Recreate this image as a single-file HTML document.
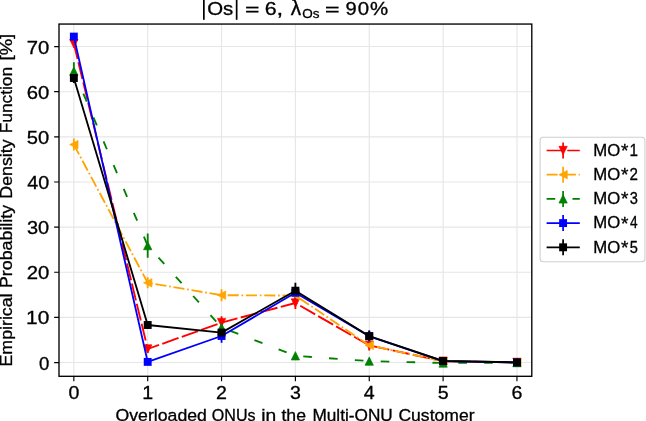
<!DOCTYPE html>
<html><head><meta charset="utf-8"><title>chart</title>
<style>html,body{margin:0;padding:0;background:#fff;overflow:hidden}body{width:646px;height:421px;position:relative;font-family:"Liberation Sans",sans-serif}text{fill:#000;stroke:#000;stroke-width:0.3px}</style></head>
<body>
<svg width="646" height="421" viewBox="0 0 646 421" style="display:block;position:absolute;left:0;top:0;will-change:transform" font-family="Liberation Sans, sans-serif">
<rect x="0" y="0" width="646" height="421" fill="#fff"/>
<path d="M73.85 24.05V376.3M147.70 24.05V376.3M221.55 24.05V376.3M295.40 24.05V376.3M369.25 24.05V376.3M443.10 24.05V376.3M516.95 24.05V376.3M59.0 362.55H531.8M59.0 317.41H531.8M59.0 272.26H531.8M59.0 227.12H531.8M59.0 181.98H531.8M59.0 136.83H531.8M59.0 91.69H531.8M59.0 46.55H531.8" stroke="#e6e6e6" stroke-width="1.11" fill="none"/>
<clipPath id="c"><rect x="59.0" y="24.05" width="472.79999999999995" height="352.25"/></clipPath>
<g clip-path="url(#c)">
<path d="M73.85 39.60V47.60M147.70 345.00V353.00M221.55 316.30V328.90M295.40 297.00V309.00M369.25 340.40V350.40M443.10 359.20V363.20M516.95 361.40V363.40" fill="none" stroke="#ff0000" stroke-width="1.85"/>
<path d="M73.85 138.60V150.60M147.70 277.30V288.30M221.55 289.20V301.20M295.40 290.60V300.60M369.25 341.30V349.30M443.10 359.20V363.20M516.95 361.40V363.40" fill="none" stroke="#ffa500" stroke-width="1.85"/>
<path d="M73.85 62.30V80.10M147.70 233.40V257.80M221.55 322.50V332.50M295.40 353.80V357.80M369.25 360.10V362.10M443.10 362.50V363.50M516.95 362.10V363.10" fill="none" stroke="#008000" stroke-width="1.85"/>
<path d="M73.85 33.60V39.60M147.70 359.90V363.90M221.55 329.30V342.70M295.40 286.80V298.80M369.25 330.30V342.30M443.10 359.10V363.10M516.95 361.40V363.40" fill="none" stroke="#0000ff" stroke-width="1.85"/>
<path d="M73.85 73.00V83.00M147.70 321.00V329.00M221.55 327.60V337.60M295.40 282.80V298.60M369.25 331.10V341.10M443.10 359.00V363.00M516.95 361.40V363.40" fill="none" stroke="#000000" stroke-width="1.85"/>
<path d="M73.85 43.60 L147.70 349.00 L221.55 322.60 L295.40 303.00 L369.25 345.40 L443.10 361.20 L516.95 362.40" fill="none" stroke="#ff0000" stroke-width="1.85" stroke-linejoin="round" stroke-dasharray="17.250 3.450" stroke-dashoffset="1.5"/>
<polygon points="73.85,47.77 69.68,39.44 78.02,39.44" fill="#ff0000" stroke="#ff0000" stroke-width="0.7" stroke-linejoin="miter"/>
<polygon points="147.70,353.17 143.53,344.83 151.86,344.83" fill="#ff0000" stroke="#ff0000" stroke-width="0.7" stroke-linejoin="miter"/>
<polygon points="221.55,326.77 217.38,318.44 225.71,318.44" fill="#ff0000" stroke="#ff0000" stroke-width="0.7" stroke-linejoin="miter"/>
<polygon points="295.40,307.17 291.23,298.83 299.56,298.83" fill="#ff0000" stroke="#ff0000" stroke-width="0.7" stroke-linejoin="miter"/>
<polygon points="369.25,349.56 365.08,341.23 373.42,341.23" fill="#ff0000" stroke="#ff0000" stroke-width="0.7" stroke-linejoin="miter"/>
<polygon points="443.10,365.37 438.94,357.03 447.27,357.03" fill="#ff0000" stroke="#ff0000" stroke-width="0.7" stroke-linejoin="miter"/>
<polygon points="516.95,366.56 512.78,358.23 521.11,358.23" fill="#ff0000" stroke="#ff0000" stroke-width="0.7" stroke-linejoin="miter"/>
<path d="M73.85 144.60 L147.70 282.80 L221.55 295.20 L295.40 295.60 L369.25 345.30 L443.10 361.20 L516.95 362.40" fill="none" stroke="#ffa500" stroke-width="1.85" stroke-linejoin="round" stroke-dasharray="11.040 2.760 1.725 2.760" stroke-dashoffset="0"/>
<polygon points="69.68,144.60 78.02,148.76 78.02,140.44" fill="#ffa500" stroke="#ffa500" stroke-width="0.7" stroke-linejoin="miter"/>
<polygon points="143.53,282.80 151.86,286.97 151.86,278.63" fill="#ffa500" stroke="#ffa500" stroke-width="0.7" stroke-linejoin="miter"/>
<polygon points="217.38,295.20 225.71,299.37 225.71,291.03" fill="#ffa500" stroke="#ffa500" stroke-width="0.7" stroke-linejoin="miter"/>
<polygon points="291.23,295.60 299.56,299.77 299.56,291.44" fill="#ffa500" stroke="#ffa500" stroke-width="0.7" stroke-linejoin="miter"/>
<polygon points="365.08,345.30 373.42,349.47 373.42,341.13" fill="#ffa500" stroke="#ffa500" stroke-width="0.7" stroke-linejoin="miter"/>
<polygon points="438.94,361.20 447.27,365.37 447.27,357.03" fill="#ffa500" stroke="#ffa500" stroke-width="0.7" stroke-linejoin="miter"/>
<polygon points="512.78,362.40 521.11,366.56 521.11,358.23" fill="#ffa500" stroke="#ffa500" stroke-width="0.7" stroke-linejoin="miter"/>
<path d="M73.85 71.20 L147.70 245.60 L221.55 327.50 L295.40 355.80 L369.25 361.10 L443.10 363.00 L516.95 362.60" fill="none" stroke="#008000" stroke-width="1.85" stroke-linejoin="round" stroke-dasharray="8.625 17.250" stroke-dashoffset="1.5"/>
<polygon points="73.85,67.03 69.68,75.37 78.02,75.37" fill="#008000" stroke="#008000" stroke-width="0.7" stroke-linejoin="miter"/>
<polygon points="147.70,241.44 143.53,249.76 151.86,249.76" fill="#008000" stroke="#008000" stroke-width="0.7" stroke-linejoin="miter"/>
<polygon points="221.55,323.33 217.38,331.67 225.71,331.67" fill="#008000" stroke="#008000" stroke-width="0.7" stroke-linejoin="miter"/>
<polygon points="295.40,351.63 291.23,359.97 299.56,359.97" fill="#008000" stroke="#008000" stroke-width="0.7" stroke-linejoin="miter"/>
<polygon points="369.25,356.94 365.08,365.27 373.42,365.27" fill="#008000" stroke="#008000" stroke-width="0.7" stroke-linejoin="miter"/>
<polygon points="443.10,358.83 438.94,367.17 447.27,367.17" fill="#008000" stroke="#008000" stroke-width="0.7" stroke-linejoin="miter"/>
<polygon points="516.95,358.44 512.78,366.77 521.11,366.77" fill="#008000" stroke="#008000" stroke-width="0.7" stroke-linejoin="miter"/>
<path d="M73.85 36.60 L147.70 361.90 L221.55 336.00 L295.40 292.80 L369.25 336.30 L443.10 361.10 L516.95 362.40" fill="none" stroke="#0000ff" stroke-width="1.85" stroke-linejoin="round"/>
<rect x="69.90" y="32.65" width="7.9" height="7.9" fill="#0000ff"/>
<rect x="143.75" y="357.95" width="7.9" height="7.9" fill="#0000ff"/>
<rect x="217.60" y="332.05" width="7.9" height="7.9" fill="#0000ff"/>
<rect x="291.45" y="288.85" width="7.9" height="7.9" fill="#0000ff"/>
<rect x="365.30" y="332.35" width="7.9" height="7.9" fill="#0000ff"/>
<rect x="439.15" y="357.15" width="7.9" height="7.9" fill="#0000ff"/>
<rect x="513.00" y="358.45" width="7.9" height="7.9" fill="#0000ff"/>
<path d="M73.85 78.00 L147.70 325.00 L221.55 332.60 L295.40 290.70 L369.25 336.10 L443.10 361.00 L516.95 362.40" fill="none" stroke="#000000" stroke-width="1.85" stroke-linejoin="round"/>
<rect x="69.90" y="74.05" width="7.9" height="7.9" fill="#000000"/>
<rect x="143.75" y="321.05" width="7.9" height="7.9" fill="#000000"/>
<rect x="217.60" y="328.65" width="7.9" height="7.9" fill="#000000"/>
<rect x="291.45" y="286.75" width="7.9" height="7.9" fill="#000000"/>
<rect x="365.30" y="332.15" width="7.9" height="7.9" fill="#000000"/>
<rect x="439.15" y="357.05" width="7.9" height="7.9" fill="#000000"/>
<rect x="513.00" y="358.45" width="7.9" height="7.9" fill="#000000"/>
</g>
<rect x="59.0" y="24.05" width="472.79999999999995" height="352.25" fill="none" stroke="#000" stroke-width="1.35"/>
<path d="M73.85 376.3v4.86M147.70 376.3v4.86M221.55 376.3v4.86M295.40 376.3v4.86M369.25 376.3v4.86M443.10 376.3v4.86M516.95 376.3v4.86M59.0 362.55h-4.86M59.0 317.41h-4.86M59.0 272.26h-4.86M59.0 227.12h-4.86M59.0 181.98h-4.86M59.0 136.83h-4.86M59.0 91.69h-4.86M59.0 46.55h-4.86" stroke="#000" stroke-width="1.15" fill="none"/>
<text x="73.85" y="399.45" font-size="17.5" text-anchor="middle" textLength="10.90" lengthAdjust="spacingAndGlyphs">0</text>
<text x="147.70" y="399.45" font-size="17.5" text-anchor="middle" textLength="10.90" lengthAdjust="spacingAndGlyphs">1</text>
<text x="221.55" y="399.45" font-size="17.5" text-anchor="middle" textLength="10.90" lengthAdjust="spacingAndGlyphs">2</text>
<text x="295.40" y="399.45" font-size="17.5" text-anchor="middle" textLength="10.90" lengthAdjust="spacingAndGlyphs">3</text>
<text x="369.25" y="399.45" font-size="17.5" text-anchor="middle" textLength="10.90" lengthAdjust="spacingAndGlyphs">4</text>
<text x="443.10" y="399.45" font-size="17.5" text-anchor="middle" textLength="10.90" lengthAdjust="spacingAndGlyphs">5</text>
<text x="516.95" y="399.45" font-size="17.5" text-anchor="middle" textLength="10.90" lengthAdjust="spacingAndGlyphs">6</text>
<text x="39.04" y="369.50" font-size="17.5" textLength="10.34" lengthAdjust="spacingAndGlyphs">0</text>
<text x="26.06" y="324.36" font-size="17.5" textLength="23.19" lengthAdjust="spacingAndGlyphs">10</text>
<text x="26.69" y="279.21" font-size="17.5" textLength="22.54" lengthAdjust="spacingAndGlyphs">20</text>
<text x="26.99" y="234.07" font-size="17.5" textLength="22.23" lengthAdjust="spacingAndGlyphs">30</text>
<text x="27.28" y="188.93" font-size="17.5" textLength="21.93" lengthAdjust="spacingAndGlyphs">40</text>
<text x="26.84" y="143.78" font-size="17.5" textLength="22.39" lengthAdjust="spacingAndGlyphs">50</text>
<text x="26.69" y="98.64" font-size="17.5" textLength="22.54" lengthAdjust="spacingAndGlyphs">60</text>
<text x="26.69" y="53.50" font-size="17.5" textLength="22.54" lengthAdjust="spacingAndGlyphs">70</text>
<text x="115.49" y="420.9" font-size="16.3" textLength="91.40" lengthAdjust="spacingAndGlyphs">Overloaded</text>
<text x="211.86" y="420.9" font-size="16.3" textLength="43.74" lengthAdjust="spacingAndGlyphs">ONUs</text>
<text x="261.17" y="420.9" font-size="16.3" textLength="14.98" lengthAdjust="spacingAndGlyphs">in</text>
<text x="281.43" y="420.9" font-size="16.3" textLength="24.52" lengthAdjust="spacingAndGlyphs">the</text>
<text x="312.45" y="420.9" font-size="16.3" textLength="80.33" lengthAdjust="spacingAndGlyphs">Multi-ONU</text>
<text x="398.46" y="420.9" font-size="16.3" textLength="76.03" lengthAdjust="spacingAndGlyphs">Customer</text>
<g transform="translate(12.1,0) rotate(-90)">
<text x="-366.50" y="0" font-size="16.3" textLength="73.04" lengthAdjust="spacingAndGlyphs">Empirical</text>
<text x="-288.00" y="0" font-size="16.3" textLength="83.10" lengthAdjust="spacingAndGlyphs">Probability</text>
<text x="-198.70" y="0" font-size="16.3" textLength="59.30" lengthAdjust="spacingAndGlyphs">Density</text>
<text x="-133.36" y="0" font-size="16.3" textLength="66.53" lengthAdjust="spacingAndGlyphs">Function</text>
<text x="-60.48" y="0" font-size="16.3" textLength="26.70" lengthAdjust="spacingAndGlyphs">[%]</text>
</g>
<text x="207.23" y="15.35" font-size="18.4" textLength="26.08" lengthAdjust="spacingAndGlyphs">Os</text>
<text x="264.88" y="15.35" font-size="18.4" textLength="11.92" lengthAdjust="spacingAndGlyphs">6</text>
<text x="276.40" y="15.35" font-size="18.4" textLength="6.72" lengthAdjust="spacingAndGlyphs">,</text>
<text x="345.64" y="15.35" font-size="18.4" textLength="11.20" lengthAdjust="spacingAndGlyphs">9</text>
<text x="357.67" y="15.35" font-size="18.4" textLength="11.34" lengthAdjust="spacingAndGlyphs">0</text>
<text x="370.11" y="15.35" font-size="18.4" textLength="18.17" lengthAdjust="spacingAndGlyphs">%</text>
<text x="290.76" y="15.35" font-size="18.4" textLength="10.37" lengthAdjust="spacingAndGlyphs" transform="translate(0,15.35) scale(1,1.17) translate(0,-15.35)">λ</text>
<text x="302.15" y="18.3" font-size="12.9" textLength="17.26" lengthAdjust="spacingAndGlyphs">Os</text>
<g fill="#000"><rect x="203.00" y="-3" width="1.7" height="22.80"/><rect x="235.80" y="-3" width="1.7" height="22.80"/><rect x="246.1" y="6.65" width="12.40" height="1.8"/><rect x="246.1" y="10.75" width="12.40" height="1.8"/><rect x="326.0" y="6.65" width="12.60" height="1.8"/><rect x="326.0" y="10.75" width="12.60" height="1.8"/></g>
<rect x="540.1" y="137.2" width="104.8" height="124.5" rx="3" ry="3" fill="#fff" stroke="#d0d0d0" stroke-width="1.11"/>
<path d="M546.6 150.50H579.8" stroke="#ff0000" stroke-width="1.725" fill="none" stroke-dasharray="17.250 3.450"/>
<path d="M563.1 142.50V158.50" stroke="#ff0000" stroke-width="1.725" fill="none"/>
<polygon points="563.10,154.66 558.94,146.34 567.26,146.34" fill="#ff0000" stroke="#ff0000" stroke-width="0.7" stroke-linejoin="miter"/>
<text x="593.28" y="155.85" font-size="15.9" textLength="26.99" lengthAdjust="spacingAndGlyphs">MO</text>
<text x="621.01" y="157.00" font-size="18.5" textLength="7.42" lengthAdjust="spacingAndGlyphs">*</text>
<text x="629.40" y="155.85" font-size="15.9" textLength="8.49" lengthAdjust="spacingAndGlyphs">1</text>
<path d="M546.6 174.70H579.8" stroke="#ffa500" stroke-width="1.725" fill="none" stroke-dasharray="11.040 2.760 1.725 2.760"/>
<path d="M563.1 166.70V182.70" stroke="#ffa500" stroke-width="1.725" fill="none"/>
<polygon points="558.94,174.70 567.26,178.86 567.26,170.53" fill="#ffa500" stroke="#ffa500" stroke-width="0.7" stroke-linejoin="miter"/>
<text x="593.28" y="180.05" font-size="15.9" textLength="26.99" lengthAdjust="spacingAndGlyphs">MO</text>
<text x="621.01" y="181.20" font-size="18.5" textLength="7.42" lengthAdjust="spacingAndGlyphs">*</text>
<text x="629.59" y="180.05" font-size="15.9" textLength="8.42" lengthAdjust="spacingAndGlyphs">2</text>
<path d="M546.6 198.90H579.8" stroke="#008000" stroke-width="1.725" fill="none" stroke-dasharray="8.625 17.250"/>
<path d="M563.1 190.90V206.90" stroke="#008000" stroke-width="1.725" fill="none"/>
<polygon points="563.10,194.74 558.94,203.06 567.26,203.06" fill="#008000" stroke="#008000" stroke-width="0.7" stroke-linejoin="miter"/>
<text x="593.28" y="204.25" font-size="15.9" textLength="26.99" lengthAdjust="spacingAndGlyphs">MO</text>
<text x="621.01" y="205.40" font-size="18.5" textLength="7.42" lengthAdjust="spacingAndGlyphs">*</text>
<text x="629.72" y="204.25" font-size="15.9" textLength="8.14" lengthAdjust="spacingAndGlyphs">3</text>
<path d="M546.6 223.10H579.8" stroke="#0000ff" stroke-width="1.725" fill="none"/>
<path d="M563.1 215.10V231.10" stroke="#0000ff" stroke-width="1.725" fill="none"/>
<rect x="559.15" y="219.15" width="7.9" height="7.9" fill="#0000ff"/>
<text x="593.28" y="228.45" font-size="15.9" textLength="26.99" lengthAdjust="spacingAndGlyphs">MO</text>
<text x="621.01" y="229.60" font-size="18.5" textLength="7.42" lengthAdjust="spacingAndGlyphs">*</text>
<text x="629.98" y="228.45" font-size="15.9" textLength="7.63" lengthAdjust="spacingAndGlyphs">4</text>
<path d="M546.6 247.30H579.8" stroke="#000000" stroke-width="1.725" fill="none"/>
<path d="M563.1 239.30V255.30" stroke="#000000" stroke-width="1.725" fill="none"/>
<rect x="559.15" y="243.35" width="7.9" height="7.9" fill="#000000"/>
<text x="593.28" y="252.65" font-size="15.9" textLength="26.99" lengthAdjust="spacingAndGlyphs">MO</text>
<text x="621.01" y="253.80" font-size="18.5" textLength="7.42" lengthAdjust="spacingAndGlyphs">*</text>
<text x="629.72" y="252.65" font-size="15.9" textLength="8.14" lengthAdjust="spacingAndGlyphs">5</text>
</svg>
</body></html>
